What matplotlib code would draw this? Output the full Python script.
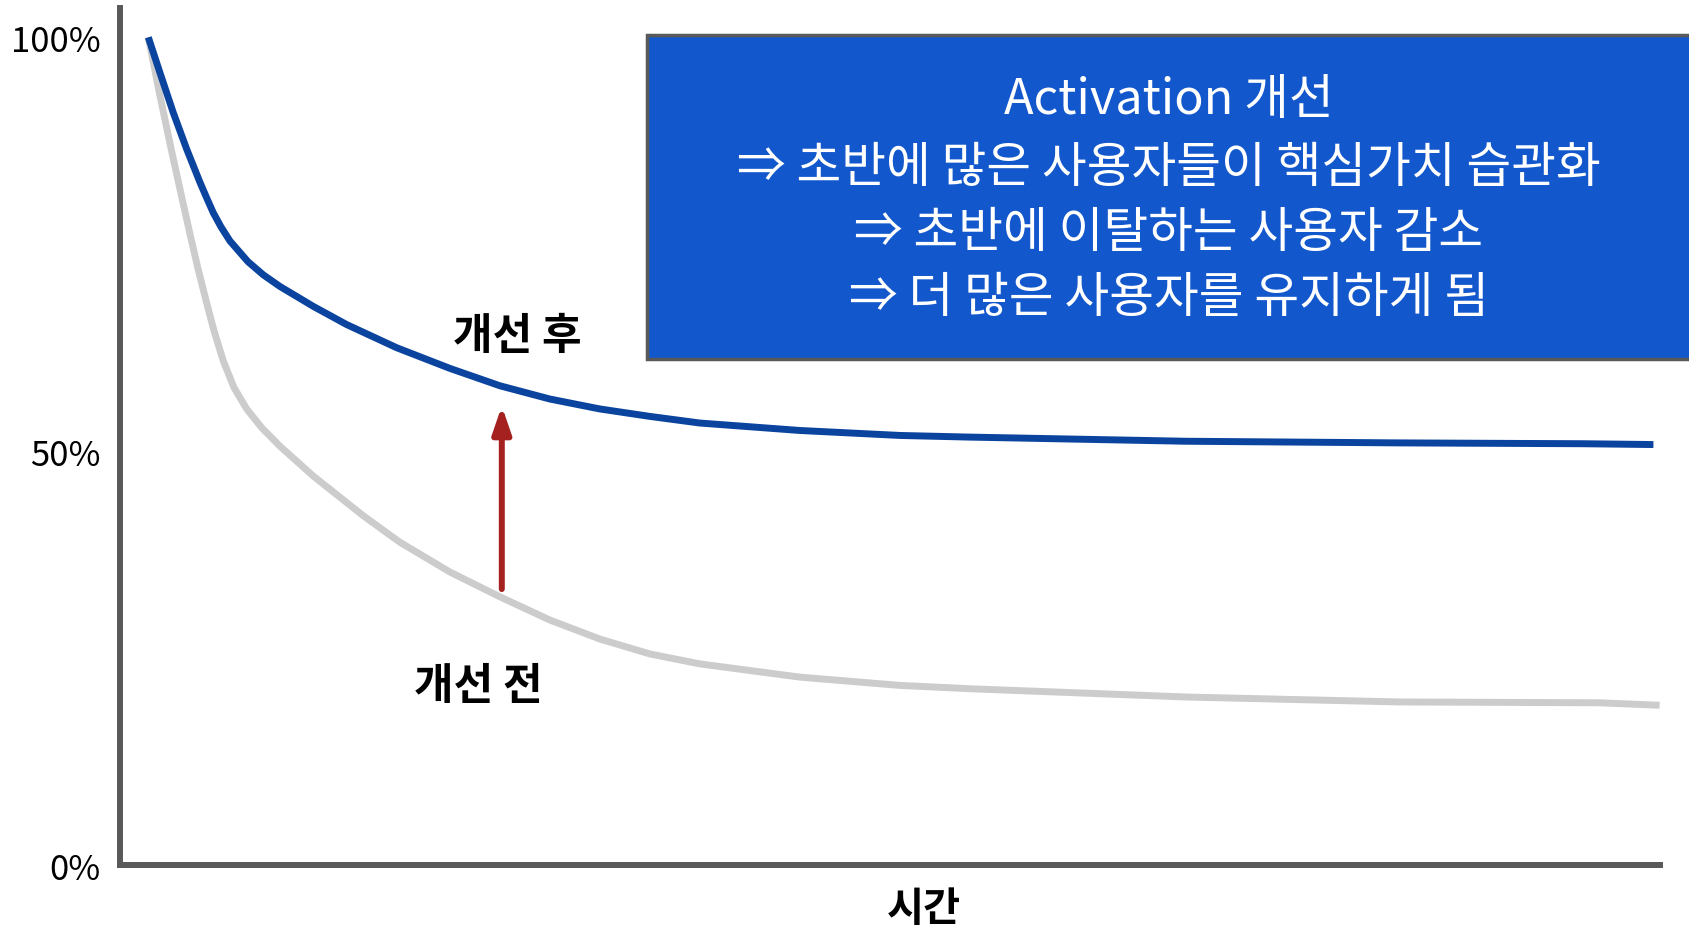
import numpy as np
import matplotlib
matplotlib.use('Agg')
import matplotlib.pyplot as plt
from matplotlib.patches import Rectangle

plt.rcParams['font.family'] = ['Noto Sans CJK KR', 'DejaVu Sans']

# time (arbitrary units, 0..100) and retention (%)
t_after = [1.84, 2.60, 3.46, 4.33, 5.19, 5.63, 6.06, 6.56, 7.14, 8.31, 9.31, 10.39, 11.47, 12.55, 14.72,
           17.97, 21.43, 24.68, 27.92, 31.17, 34.42, 37.66, 44.16, 50.65, 55.2, 69.2, 83.1, 95.0, 99.6]
after = [100, 95.7, 90.9, 86.5, 82.5, 80.6, 78.8, 77.1, 75.4, 72.9, 71.3, 69.9, 68.7, 67.5, 65.3,
         62.5, 60.0, 57.9, 56.3, 55.1, 54.2, 53.4, 52.5, 51.9, 51.7, 51.2, 51.0, 50.9, 50.8]

t_before = [1.84, 2.60, 3.36, 4.01, 4.55, 5.06, 5.63, 6.10, 6.71, 7.40, 8.23, 9.22, 10.39, 12.55,
            15.80, 18.18, 21.43, 24.68, 27.92, 31.17, 34.42, 37.66, 44.16, 50.65, 55.2, 69.2,
            83.1, 96.1, 100]
before = [100, 92.9, 86.2, 80.7, 76.2, 72.1, 67.9, 64.6, 60.9, 57.7, 55.1, 52.8, 50.6, 47.0,
          42.2, 39.0, 35.4, 32.4, 29.6, 27.3, 25.5, 24.3, 22.7, 21.7, 21.3, 20.3,
          19.7, 19.6, 19.3]

yticks = [0, 50, 100]
ytick_labels = ['0%', '50%', '100%']

box_lines = ['Activation 개선',
             '⇒ 초반에 많은 사용자들이 핵심가치 습관화',
             '⇒ 초반에 이탈하는 사용자 감소',
             '⇒ 더 많은 사용자를 유지하게 됨']

fig = plt.figure(figsize=(16.9, 9.28), dpi=100)
ax = fig.add_axes([0.071, 0.0668, 0.911, 0.924])

ax.plot(t_before, before, color='#CCCCCC', lw=5, solid_capstyle='butt', solid_joinstyle='round')
ax.plot(t_after, after, color='#0B449E', lw=5, solid_capstyle='butt', solid_joinstyle='round')

# arrow from "before" to "after"
ax.annotate('', xy=(24.8, 55.8), xytext=(24.8, 33.0),
            arrowprops=dict(arrowstyle='-|>,head_length=1.6,head_width=0.55', color='#A5211F', lw=4.3))

ax.text(25.8, 64.0, '개선 후', fontsize=31, fontweight='bold', ha='center', va='center')
ax.text(23.3, 21.8, '개선 전', fontsize=31, fontweight='bold', ha='center', va='center')

ax.set_xlim(0, 100)
ax.set_ylim(0, 103.6)
ax.set_xticks([])
ax.set_yticks(yticks)
ax.set_yticklabels(ytick_labels, fontsize=25)
ax.tick_params(axis='y', length=0, pad=14)
for s in ['top', 'right']:
    ax.spines[s].set_visible(False)
for s in ['left', 'bottom']:
    ax.spines[s].set_color('#595959')
    ax.spines[s].set_linewidth(4.3)

fig.text(924 / 1690, 1 - 910 / 928, '시간', fontsize=29, fontweight='bold', ha='center', va='center')

# message box
fig.add_artist(Rectangle((647 / 1690, 1 - 360 / 928), 0.7, 324 / 928, transform=fig.transFigure,
                         facecolor='#1357CC', edgecolor='#595959', lw=2.5))
for yy, line in zip([100, 168, 233, 298], box_lines):
    fig.text(1169 / 1690, 1 - yy / 928, line, fontsize=35, color='white', ha='center', va='center')

fig.savefig('out.png')
